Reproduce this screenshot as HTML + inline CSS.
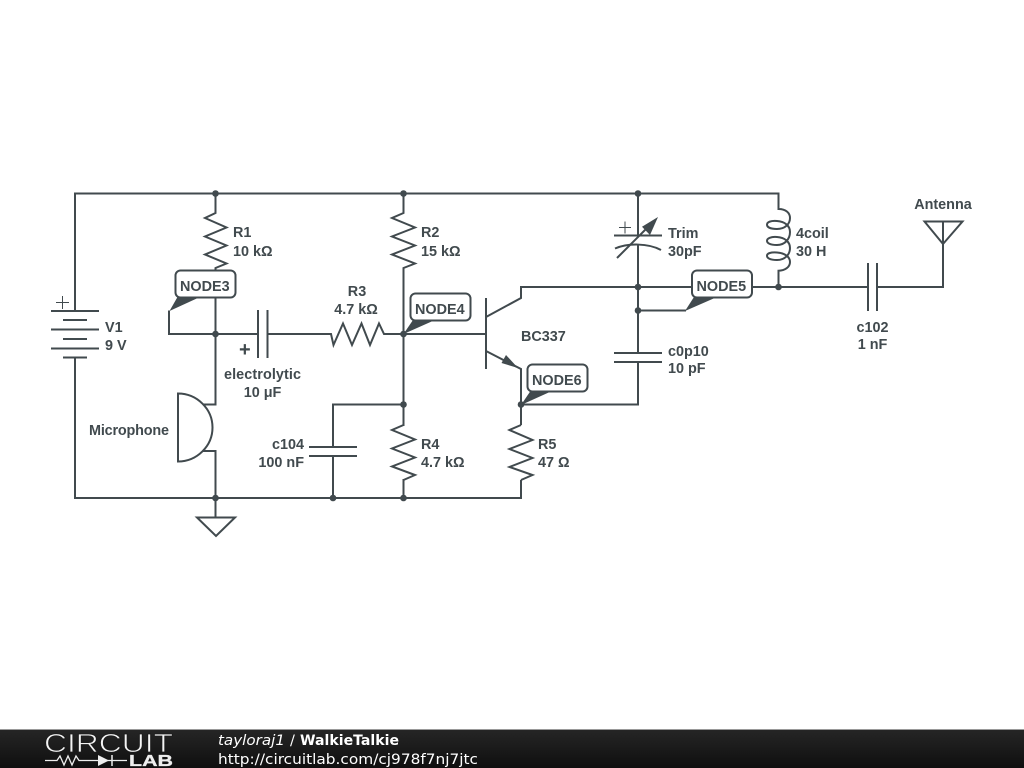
<!DOCTYPE html>
<html><head><meta charset="utf-8"><title>WalkieTalkie</title>
<style>
html,body{margin:0;padding:0;background:#fff;}
body{width:1024px;height:768px;overflow:hidden;position:relative;}
svg{position:absolute;left:0;top:0;}
.t{font-family:"Liberation Sans",sans-serif;font-weight:bold;font-size:14.4px;fill:#414a4e;}
.w{fill:none;stroke:#414a4e;stroke-width:2;stroke-linejoin:miter;}
.n{fill:#fff;stroke:#414a4e;stroke-width:2;}
</style></head><body>
<svg width="1024" height="768" viewBox="0 0 1024 768">
<defs><linearGradient id="g" x1="0" y1="0" x2="0" y2="1"><stop offset="0" stop-color="#262626"/><stop offset="1" stop-color="#0f0f0f"/></linearGradient></defs>
<g class="w">
<!-- rails -->
<path d="M75 311V193.5H778.5V209"/>
<path d="M75 357.5V498H521V480"/>
<!-- battery -->
<path d="M51 311H99M63 320H87M51 329.5H99M63 339H87M51 348.5H99M63 357.5H87"/>
<path d="M56 302.5H69M62.5 296V309" stroke-width="1"/>
<!-- R1 -->
<path d="M215.5 193.5V213L205 218 226.5 227.500 205 236.500 226.500 245.500 205 254.500 226.500 263.500 215.500 268V271"/>
<!-- mid left -->
<path d="M215.500 297V404.500H203M203 451H215.500V517"/>
<path d="M169 310.500V334H258M258 310V358M267.500 310V358M267.500 334H330"/>
<path d="M178 393.500V461.500C197 461.500 212.500 446 212.500 427.500C212.500 409 197 393.500 178 393.500Z"/>
<path d="M197 517.500H235L216 536Z"/>
<!-- R3 -->
<path d="M330 334H331L333.500 345 343 323.500 352 345 361.500 323.500 370 345 379 323.500 384 334H486"/>
<!-- R2 -->
<path d="M403.500 193.500V213L392 218 415 227.500 392 236.500 415 245.500 392 254.500 415 263.500 403.500 268V498"/>
<!-- R4 -->
<path d="M403.500 404.500V425" />
<path d="M333 447V404.500H403.500M309 447H357M309 456H357M333 456V498"/>
<!-- transistor -->
<path d="M486 298V369M486 317L521 298V287H943V221"/>
<path d="M486 351L521 369V425"/>
<path d="M521 404.500H638V362M614 362H662M614 353H662M638 353V245M638 235.500V193.500M614 235.500H662"/>
<path d="M615 248.500C628 243 648 243 661 250"/>
<path d="M617 258L648 227" />
<path d="M619 227.500H631M625 221.500V233.500" stroke-width="1"/>
<!-- R5 -->
<path d="M521 425L509.500 430 532.500 440 509.500 449 532.500 458 509.500 467 532.500 475 521 480"/>
<!-- node5 branch -->
<path d="M638 310.500H686"/>
<!-- coil -->
<path d="M778.500 193.500V209C786 209 790 213 790 218C790 224 785 229 777 229C770 229 767 227 767 224.500C767 222 771 220.500 777 221C785 221.500 790 226 790 232C790 239 785 245 777 245C770 245 767 243 767 240.700C767 238.300 771 236.500 777 237C785 237.500 790 242 790 248C790 254.500 785 260 777 260C770 260 767 258 767 255.700C767 253.300 771 252 777 252.500C785 253 790 257 790 262C790 267 785 270.700 778.500 270.700V287"/>
<!-- c102 -->
<path d="M868 263V311M877 263V311"/>
<path d="M924.500 221.500H962.500L943 244Z"/>
</g>
<rect x="869" y="285" width="7" height="4" fill="#fff"/>
<rect x="259" y="332" width="7.500" height="4" fill="#fff"/>
<!-- R4 overlay -->
<rect x="401" y="426" width="5" height="53" fill="#fff"/>
<path class="w" d="M403.500 425L392 430 415 439.500 392 448.500 415 457.500 392 466.500 415 475 403.500 480"/>
<!-- arrows -->
<path d="M658 217L642 226.700 650 235Z" fill="#414a4e"/>
<path d="M518 368L501.500 363 506 355Z" fill="#414a4e"/>
<!-- dots -->
<g fill="#414a4e">
<circle cx="215.500" cy="193.500" r="3.300"/><circle cx="403.500" cy="193.500" r="3.300"/><circle cx="638" cy="193.500" r="3.300"/>
<circle cx="215.500" cy="334" r="3.300"/><circle cx="403.500" cy="334" r="3.300"/>
<circle cx="638" cy="287" r="3.300"/><circle cx="638" cy="310.500" r="3.300"/><circle cx="778.500" cy="287" r="3.300"/>
<circle cx="403.500" cy="404.500" r="3.300"/><circle cx="521" cy="404.500" r="3.300"/>
<circle cx="215.500" cy="498" r="3.300"/><circle cx="333" cy="498" r="3.300"/><circle cx="403.500" cy="498" r="3.300"/>
</g>
<!-- node labels -->
<path d="M169.500 311L177.500 297H200Z" fill="#414a4e"/>
<rect class="n" x="175.500" y="270.500" width="60" height="27" rx="5"/>
<path d="M403.500 334L413 320H435Z" fill="#414a4e"/>
<rect class="n" x="410.500" y="293.500" width="60" height="27" rx="5"/>
<path d="M685 311L694 297H717Z" fill="#414a4e"/>
<rect class="n" x="692" y="270.500" width="60" height="27" rx="5"/>
<path d="M521 405L530.500 391H552Z" fill="#414a4e"/>
<rect class="n" x="527.500" y="364.500" width="60" height="27" rx="5"/>
<!-- text -->
<g class="t">
<text x="180" y="291">NODE3</text>
<text x="415" y="314">NODE4</text>
<text x="696.500" y="291">NODE5</text>
<text x="532" y="385">NODE6</text>
<text x="233" y="237">R1</text><text x="233" y="256">10 kΩ</text>
<text x="421" y="237">R2</text><text x="421" y="256">15 kΩ</text>
<text x="357" y="296" text-anchor="middle">R3</text><text x="356" y="314" text-anchor="middle">4.7 kΩ</text>
<text x="105" y="332">V1</text><text x="105" y="350">9 V</text>
<text x="262.500" y="379" text-anchor="middle" textLength="77">electrolytic</text><text x="262.500" y="397" text-anchor="middle">10 μF</text>
<text x="89" y="435" textLength="80">Microphone</text>
<text x="304" y="449" text-anchor="end">c104</text><text x="304" y="467" text-anchor="end">100 nF</text>
<text x="421" y="449">R4</text><text x="421" y="467">4.7 kΩ</text>
<text x="538" y="449">R5</text><text x="538" y="467">47 Ω</text>
<text x="521" y="341">BC337</text>
<text x="668" y="238">Trim</text><text x="668" y="256">30pF</text>
<text x="796" y="238">4coil</text><text x="796" y="256">30 H</text>
<text x="668" y="356">c0p10</text><text x="668" y="373">10 pF</text>
<text x="872.500" y="332" text-anchor="middle">c102</text><text x="872.500" y="349" text-anchor="middle">1 nF</text>
<text x="943" y="209" text-anchor="middle">Antenna</text>
<text x="239" y="356" style="font-size:20px">+</text>
</g>
<!-- footer -->
<rect x="0" y="729" width="1024" height="39" fill="url(#g)"/>
<rect x="0" y="729" width="1024" height="1" fill="#999"/>
<text x="44" y="752" textLength="129" lengthAdjust="spacingAndGlyphs" style="font-family:'Liberation Sans',sans-serif;font-size:26px;fill:#f4f4f4;stroke:#1c1c1c;stroke-width:.8">CIRCUIT</text>
<path d="M45 760.500H57L60 756 64 765 68 756 72 765 76 756 79 760.500H127" fill="none" stroke="#eee" stroke-width="1.300"/>
<path d="M98 755V766L109 760.500Z" fill="#eee"/><path d="M112 755V766" stroke="#eee" stroke-width="1.500"/>
<text x="129" y="766" textLength="44" lengthAdjust="spacingAndGlyphs" style="font-family:'Liberation Sans',sans-serif;font-weight:bold;font-size:16px;fill:#eee;stroke:#eee;stroke-width:.3">LAB</text>
<g style="font-family:'DejaVu Sans',sans-serif;font-size:14.500px;fill:#fff">
<text x="218" y="745" font-style="italic" textLength="67" lengthAdjust="spacingAndGlyphs">tayloraj1</text>
<text x="290" y="745">/</text>
<text x="300" y="745" font-weight="bold" textLength="99" lengthAdjust="spacingAndGlyphs">WalkieTalkie</text>
<text x="218" y="764" textLength="260" lengthAdjust="spacingAndGlyphs">http://circuitlab.com/cj978f7nj7jtc</text>
</g>
</svg>
</body></html>
